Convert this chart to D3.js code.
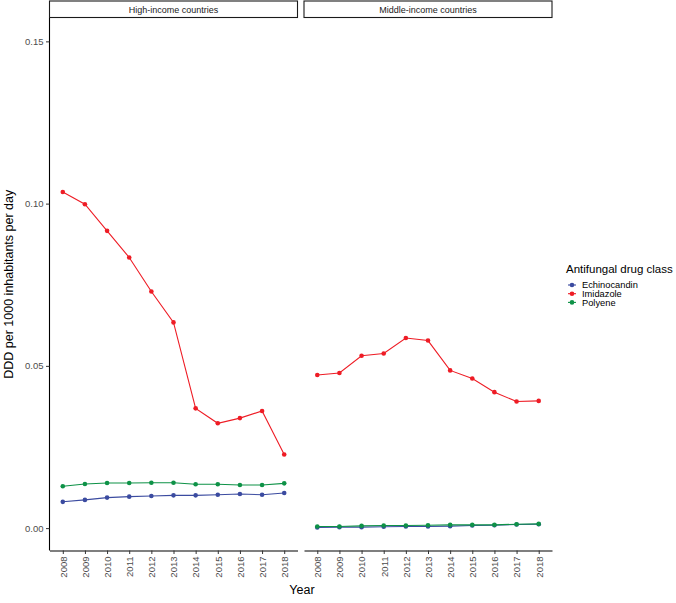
<!DOCTYPE html>
<html><head><meta charset="utf-8">
<script src="https://cdn.jsdelivr.net/npm/d3@7"></script>
<style>body{margin:0;background:#fff}svg{display:block}text{font-family:"Liberation Sans",Arial,sans-serif}</style>
</head><body>
<script>
const years = ["2008","2009","2010","2011","2012","2013","2014","2015","2016","2017","2018"];
const panels = ["High-income countries","Middle-income countries"];
const classes = ["Echinocandin","Imidazole","Polyene"];
const colors = ["#3B4BA0","#EE1C25","#0E9247"];
const yTicks = [0, 0.05, 0.10, 0.15];

const highEchinocandin = [0.0081,0.0087,0.0094,0.0097,0.0099,0.0101,0.0101,0.0103,0.0105,0.0103,0.0108];
const highImidazole    = [0.1036,0.0998,0.0916,0.0834,0.0729,0.0634,0.0369,0.0323,0.0339,0.0361,0.0227];
const highPolyene      = [0.0129,0.0136,0.0139,0.0139,0.0140,0.0140,0.0135,0.0135,0.0133,0.0133,0.0138];
const midEchinocandin  = [0.0002,0.0003,0.0003,0.0004,0.0005,0.0005,0.0006,0.0008,0.0009,0.0011,0.0012];
const midImidazole     = [0.0472,0.0478,0.0531,0.0538,0.0586,0.0578,0.0486,0.0461,0.0419,0.0390,0.0392];
const midPolyene       = [0.0005,0.0005,0.0007,0.0008,0.0008,0.0009,0.0010,0.0010,0.0010,0.0012,0.0013];

const seriesByPanel = [
  [highEchinocandin, highImidazole, highPolyene],
  [midEchinocandin, midImidazole, midPolyene]
];

const W = 676, H = 603;
const svg = d3.select("body").append("svg").attr("width", W).attr("height", H);

const panelX = [49.5, 304];
const panelW = 248;
const plotTop = 18, plotBottom = 550.5;
const y = d3.scaleLinear().domain([-0.0069, 0.1572]).range([plotBottom, plotTop]);
const tickCol = "#4d4d4d";

panels.forEach((p, pi) => {
  const x = d3.scalePoint().domain(years).range([panelX[pi], panelX[pi] + panelW]).padding(0.6);
  const g = svg.append("g");
  // strip
  g.append("rect").attr("x", panelX[pi]).attr("y", 1).attr("width", panelW).attr("height", 16.5)
    .attr("fill", "#fff").attr("stroke", "#1a1a1a").attr("stroke-width", 1.1);
  g.append("text").attr("x", panelX[pi] + panelW / 2).attr("y", 13).attr("text-anchor", "middle")
    .attr("font-size", 9).attr("fill", "#1a1a1a").text(p);

  // x axis
  const xa = g.append("g").attr("transform", `translate(0,${plotBottom})`)
    .call(d3.axisBottom(x).tickSize(3.5).tickSizeOuter(0));
  xa.select(".domain").attr("stroke", "#000").attr("stroke-width", 1.1);
  xa.selectAll(".tick line").attr("stroke", "#333").attr("stroke-width", 1);
  xa.selectAll(".tick text").attr("font-size", 9.5).attr("fill", tickCol)
    .attr("transform", "rotate(-90)").attr("text-anchor", "end")
    .attr("x", -6).attr("y", 0).attr("dy", "0.35em");

  if (pi === 0) {
    const ya = g.append("g").attr("transform", `translate(${panelX[0]},0)`)
      .call(d3.axisLeft(y).tickValues(yTicks).tickFormat(d3.format(".2f")).tickSize(3.5).tickSizeOuter(0));
    ya.select(".domain").attr("stroke", "#000").attr("stroke-width", 1.1)
      .attr("d", `M0,${plotTop}V${plotBottom}`);
    ya.selectAll(".tick line").attr("stroke", "#333");
    ya.selectAll(".tick text").attr("font-size", 9.5).attr("fill", tickCol).attr("x", -6);
  }

  seriesByPanel[pi].forEach((vals, si) => {
    const line = d3.line().x((d, i) => x(years[i])).y(d => y(d));
    g.append("path").attr("d", line(vals)).attr("fill", "none")
      .attr("stroke", colors[si]).attr("stroke-width", 1.1);
    g.selectAll(null).data(vals).enter().append("circle")
      .attr("cx", (d, i) => x(years[i])).attr("cy", d => y(d)).attr("r", 2.3)
      .attr("fill", colors[si]);
  });
});

// axis titles
svg.append("text").attr("x", 302).attr("y", 594).attr("text-anchor", "middle")
  .attr("font-size", 12.5).attr("fill", "#000").text("Year");
svg.append("text").attr("transform", `translate(13,${(plotTop + plotBottom) / 2}) rotate(-90)`)
  .attr("text-anchor", "middle").attr("font-size", 12.5).attr("fill", "#000")
  .text("DDD per 1000 inhabitants per day");

// legend
const lg = svg.append("g");
lg.append("text").attr("x", 566).attr("y", 273).attr("font-size", 11.5).attr("fill", "#000")
  .text("Antifungal drug class");
classes.forEach((c, i) => {
  const yy = 285 + i * 8.7;
  lg.append("line").attr("x1", 568).attr("x2", 576).attr("y1", yy).attr("y2", yy)
    .attr("stroke", colors[i]).attr("stroke-width", 1.1);
  lg.append("circle").attr("cx", 572).attr("cy", yy).attr("r", 2.3).attr("fill", colors[i]);
  lg.append("text").attr("x", 582).attr("y", yy + 3.3).attr("font-size", 9.3).attr("fill", "#000").text(c);
});
</script>
</body></html>
